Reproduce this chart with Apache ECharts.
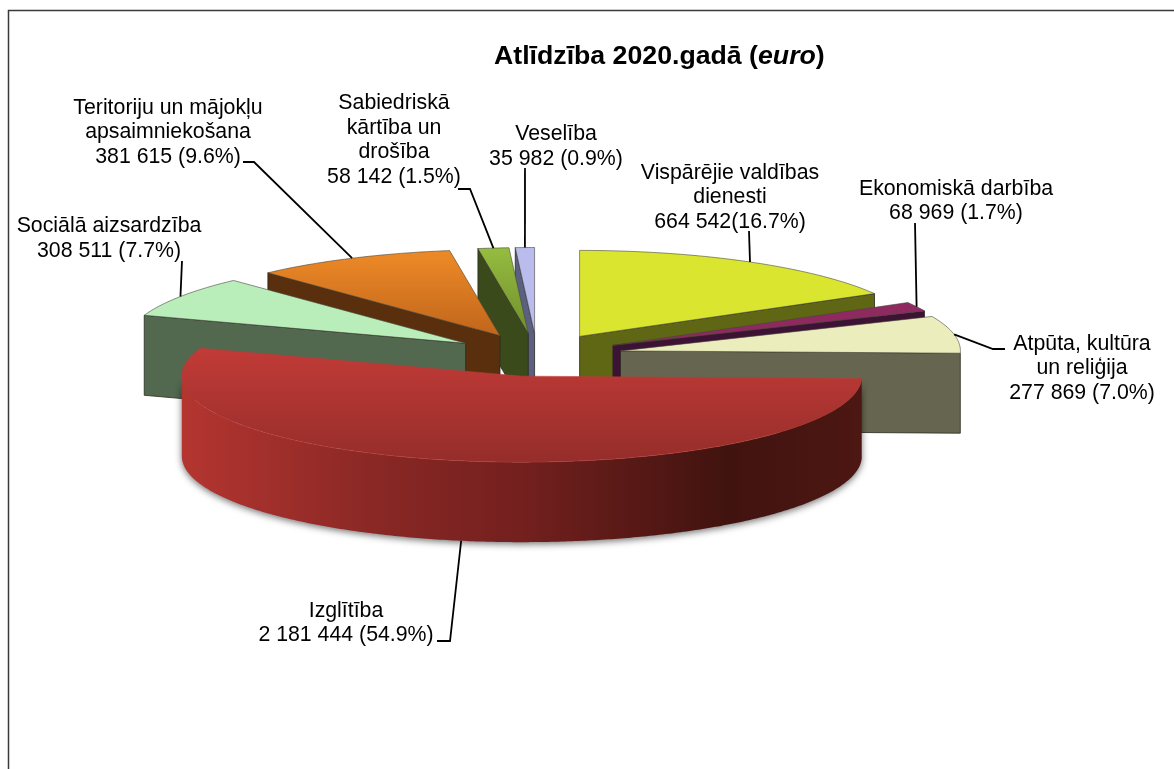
<!DOCTYPE html>
<html><head><meta charset="utf-8">
<style>html,body{margin:0;padding:0;background:#fff}#c{width:1174px;height:769px}</style>
<script src="https://cdn.jsdelivr.net/npm/echarts@6/dist/echarts.min.js"></script>
</head><body><div id="c"></div>
<script>
const categories = ['Vispārējie valdības dienesti','Ekonomiskā darbība','Atpūta, kultūra un reliģija','Izglītība','Sociālā aizsardzība','Teritoriju un mājokļu apsaimniekošana','Sabiedriskā kārtība un drošība','Veselība'];
const values = [664542, 68969, 277869, 2181444, 308511, 381615, 58142, 35982];
const labelTexts = [
 'Vispārējie valdības\ndienesti\n664 542(16.7%)',
 'Ekonomiskā darbība\n68 969 (1.7%)',
 'Atpūta, kultūra\nun reliģija\n277 869 (7.0%)',
 'Izglītība\n2 181 444 (54.9%)',
 'Sociālā aizsardzība\n308 511 (7.7%)',
 'Teritoriju un mājokļu\napsaimniekošana\n381 615 (9.6%)',
 'Sabiedriskā\nkārtība un\ndrošība\n58 142 (1.5%)',
 'Veselība\n35 982 (0.9%)'
];

// layout
const CX = 537, CY = 355, RX = 340, RY = 86, DEPTH = 80, EXPLODE = 0.25;
const drawOrder = [7, 6, 5, 4, 0, 1, 2, 3];
const labelCentre = [[730,197.5],[956,201],[1082,368.5],[346,623],[109,238.5],[168,132.5],[394,140],[556,146.5]];
const leaderPaths = [
 [[749,231]],
 [[915,223]],
 [[993,349],[1005,349]],
 [[450,641],[437,641]],
 [[182,261]],
 [[254,162],[243,162]],
 [[470,189],[458,189]],
 [[525,168]]
];
const G = (x,y,x2,y2,stops)=>new echarts.graphic.LinearGradient(x,y,x2,y2,stops.map((c,i)=>({offset:Array.isArray(c)?c[0]:i/(stops.length-1),color:Array.isArray(c)?c[1]:c})));
const topFill = [
 ()=>'#d9e52f', ()=>'#8f2a60', ()=>'#ecedbc',
 ()=>G(0,0,0,1,['#c23b37','#952d2a']),
 ()=>'#b9edba',
 ()=>G(0,0,0,1,['#ee8a27','#c0651b']),
 ()=>G(0,0,0,1,['#96bc40','#6f8f2c']),
 ()=>'#b9bcec'
];
const sideFill = ['#5f6614','#3e1234','#666650',null,'#52684f','#5a2f0e','#3a4a1b','#5b5f80'];

// slice geometry derived from values
const total = values.reduce((a,b)=>a+b,0);
let acc = 0;
const slices = values.map(v=>{const s=acc/total*2*Math.PI; acc+=v; const e=acc/total*2*Math.PI;
  const m=(s+e)/2; return {s,e,m,ax:CX+EXPLODE*RX*Math.sin(m),ay:CY-EXPLODE*RY*Math.cos(m)};});
const rim=(sl,a)=>[sl.ax+RX*Math.sin(a),sl.ay-RY*Math.cos(a)];
const arc=(sl,a,b)=>{const n=Math.max(2,Math.ceil(Math.abs(b-a)/0.01));const p=[];for(let i=0;i<=n;i++)p.push(rim(sl,a+(b-a)*i/n));return p;};
const down=p=>[p[0],p[1]+DEPTH];

function radialFace(sl,a,fill){
  const r=rim(sl,a),ap=[sl.ax,sl.ay];
  return {type:'polygon',shape:{points:[r,ap,down(ap),down(r)]},style:{fill,stroke:'#2a2a20',lineWidth:0.8}};
}
function renderSlice(params){
  const i=drawOrder[params.dataIndex], sl=slices[i], kids=[];
  if(i===3){
    const a=Math.max(sl.s,Math.PI/2), b=Math.min(sl.e,Math.PI*1.5);
    const t=arc(sl,a,b);
    kids.push({type:'polygon',shape:{points:t.concat(t.slice().reverse().map(down))},
      style:{fill:G(0,0,1,0,[[0,'#b43530'],[0.28,'#8a2825'],[0.5,'#73201e'],[0.8,'#41130f'],[1,'#4d1713']]),
      shadowBlur:7,shadowColor:'rgba(0,0,0,0.55)',shadowOffsetY:2}});
  } else if(i===0||i===1||i===2){
    kids.push(radialFace(sl,sl.e,sideFill[i]));
  } else {
    kids.push(radialFace(sl,sl.s,sideFill[i]));
  }
  const top=[[sl.ax,sl.ay]].concat(arc(sl,sl.s,sl.e));
  kids.push({type:'polygon',shape:{points:top},
    style:{fill:topFill[i](),stroke:i===3?'#b83c38':'rgba(70,70,60,0.75)',lineWidth:i===3?0.6:0.8}});
  return {type:'group',children:kids};
}
function renderLabel(params){
  const i=params.dataIndex, sl=slices[i];
  const pts=[rim(sl,sl.m)];
  if(i===3) pts[0]=down(pts[0]);
  return {type:'group',children:[
    {type:'polyline',shape:{points:pts.concat(leaderPaths[i])},style:{fill:null,stroke:'#000',lineWidth:1.8}},
    {type:'text',style:{text:labelTexts[i],x:labelCentre[i][0],y:labelCentre[i][1],align:'center',verticalAlign:'middle',
      fontFamily:'Liberation Sans, Arial, sans-serif',fontSize:21.3,lineHeight:24.5,fill:'#000'}}
  ]};
}
const chart=echarts.init(document.getElementById('c'),null,{renderer:'canvas'});
chart.setOption({
  animation:false,backgroundColor:'#fff',
  title:{left:489,top:38,text:'{b|Atlīdzība 2020.gadā (}{i|euro}{b|)}',
    textStyle:{rich:{
      b:{fontFamily:'Liberation Sans, Arial, sans-serif',fontWeight:'bold',fontSize:26.7,color:'#000'},
      i:{fontFamily:'Liberation Sans, Arial, sans-serif',fontWeight:'bold',fontStyle:'italic',fontSize:26.7,color:'#000'}}}},
  graphic:[{type:'rect',silent:true,shape:{x:8.5,y:10.5,width:1300,height:900},style:{fill:null,stroke:'#3a3a3a',lineWidth:1.5}}],
  series:[
   {type:'custom',coordinateSystem:'none',silent:true,renderItem:renderSlice,clip:false,
    data:drawOrder.map(i=>({name:categories[i],value:values[i]}))},
   {type:'custom',coordinateSystem:'none',silent:true,renderItem:renderLabel,clip:false,z:5,
    data:categories.map((c,i)=>({name:c,value:values[i]}))}
  ]
});
</script></body></html>
